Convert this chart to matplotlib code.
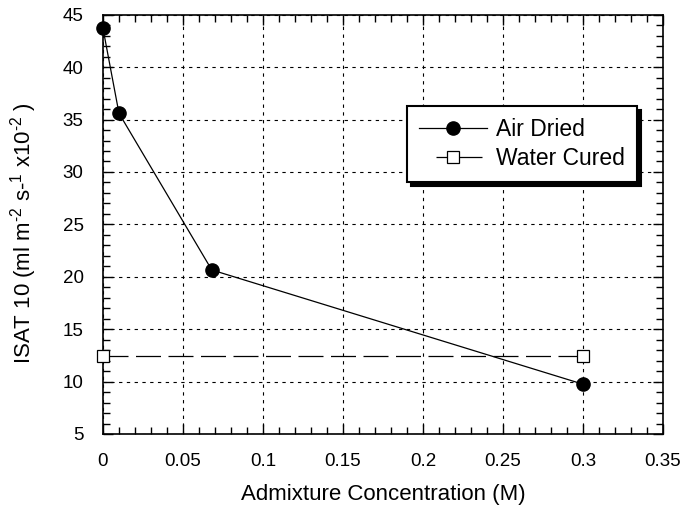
import matplotlib
matplotlib.use("Agg")
import matplotlib.pyplot as plt
from matplotlib.ticker import MultipleLocator

plt.rcParams['font.family'] = ['Liberation Sans', 'DejaVu Sans']
plt.rcParams['mathtext.fontset'] = 'custom'
plt.rcParams['mathtext.rm'] = 'Liberation Sans'
plt.rcParams['mathtext.it'] = 'Liberation Sans'
plt.rcParams['mathtext.bf'] = 'Liberation Sans:bold'

air_x = [0.0, 0.01, 0.068, 0.3]
air_y = [43.7, 35.6, 20.65, 9.75]
water_x = [0.0, 0.3]
water_y = [12.45, 12.45]

fig = plt.figure(figsize=(6.81, 5.08), dpi=100)
ax = fig.add_axes([0.1512, 0.1457, 0.8224, 0.8253])

ax.plot(air_x, air_y, '-', color='black', lw=0.9, marker='o', ms=9.5,
        mfc='black', mec='black', label='Air Dried', clip_on=False, zorder=5)
ax.plot(water_x, water_y, color='black', lw=0.9, dashes=(20, 6), marker='s', ms=8.5,
        mfc='white', mec='black', mew=0.9, label='Water Cured', clip_on=False, zorder=5)

ax.set_xlim(0, 0.35)
ax.set_ylim(5, 45)
ax.xaxis.set_major_locator(MultipleLocator(0.05))
ax.xaxis.set_minor_locator(MultipleLocator(0.01))
ax.yaxis.set_major_locator(MultipleLocator(5))
ax.yaxis.set_minor_locator(MultipleLocator(1))
ax.set_xticks([0, 0.05, 0.1, 0.15, 0.2, 0.25, 0.3, 0.35])
ax.set_xticklabels(['0', '0.05', '0.1', '0.15', '0.2', '0.25', '0.3', '0.35'])
ax.tick_params(which='both', direction='in', top=True, right=True, labelsize=13.5, color='black')
ax.tick_params(axis='x', pad=14)
ax.tick_params(axis='y', pad=14)
ax.tick_params(which='major', length=7, width=1)
ax.tick_params(which='minor', length=5, width=1)
ax.grid(True, which='major', color='black', lw=0.8, linestyle=(0, (3, 4)))
for s in ax.spines.values():
    s.set_linewidth(1.2)

ax.set_xlabel('Admixture Concentration (M)', fontsize=16, labelpad=10)
ylab = ax.set_ylabel(r'ISAT 10 (ml m$^{\text{-2}}$ s-$^{\text{1}}$ x10$^{\text{-2}}$ )',
                     fontsize=16)
ax.yaxis.set_label_coords(-0.115, 0.48)

leg = ax.legend(loc='upper left', bbox_to_anchor=(0.543, 0.782), fontsize=16.5,
                frameon=True, fancybox=False, edgecolor='black', framealpha=1,
                handlelength=3.0, borderpad=0.5, labelspacing=0.3, handletextpad=0.4,
                borderaxespad=0,
                shadow={'ox': 3, 'oy': -3, 'color': 'black', 'alpha': 1})
leg.get_frame().set_linewidth(1.5)
leg.set_zorder(10)
leg.get_lines()[1].set_linestyle((36.8, (36.8, 13.6)))

fig.savefig('out.png', dpi=100)
